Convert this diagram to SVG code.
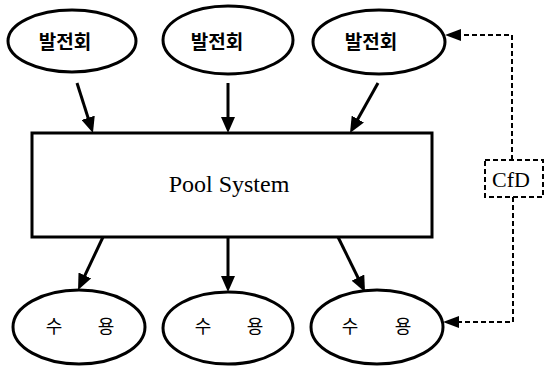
<svg xmlns="http://www.w3.org/2000/svg" width="547" height="366" viewBox="0 0 547 366">
<style>
.node{fill:#fff;stroke:#000;stroke-width:3}
.ko{font-family:"Noto Sans CJK KR",sans-serif;font-size:18px;fill:#000}
.gen{font-size:19px;font-weight:bold}
.en{font-family:"Liberation Serif",serif;fill:#000}
.arr{stroke:#000;stroke-width:3;fill:none;marker-end:url(#ah)}
.dash{stroke:#000;stroke-width:2;fill:none;stroke-dasharray:5 3;marker-end:url(#ah2)}
</style>
<defs>
<marker id="ah" markerUnits="userSpaceOnUse" markerWidth="16" markerHeight="14" refX="6" refY="7" orient="auto">
<path d="M0,0 L16,7 L0,14 z" fill="#000" stroke="none"/>
</marker>
<marker id="ah2" markerUnits="userSpaceOnUse" markerWidth="16" markerHeight="12" refX="6" refY="6" orient="auto">
<path d="M0,0 L16,6 L0,12 z" fill="#000" stroke="none"/>
</marker>
</defs>
<rect width="547" height="366" fill="#fff"/>
<g id="gen1"><ellipse class="node" cx="72" cy="41" rx="64" ry="31"/><text class="ko gen" x="65" y="49" text-anchor="middle">발전회</text></g>
<g id="gen2"><ellipse class="node" cx="228" cy="40" rx="65" ry="34"/><text class="ko gen" x="217" y="49" text-anchor="middle">발전회</text></g>
<g id="gen3"><ellipse class="node" cx="379" cy="42" rx="66" ry="32"/><text class="ko gen" x="371" y="49" text-anchor="middle">발전회</text></g>
<g id="pool"><rect class="node" x="32" y="133" width="400" height="104"/><text class="en" x="229" y="192" font-size="24" text-anchor="middle">Pool System</text></g>
<g id="dem1"><ellipse class="node" cx="79" cy="327" rx="66" ry="37"/><text class="ko" y="333" font-size="17" text-anchor="middle"><tspan x="54">수</tspan><tspan x="106">용</tspan></text></g>
<g id="dem2"><ellipse class="node" cx="228" cy="328" rx="65" ry="36"/><text class="ko" y="333" font-size="17" text-anchor="middle"><tspan x="203">수</tspan><tspan x="255">용</tspan></text></g>
<g id="dem3"><ellipse class="node" cx="377" cy="327" rx="66" ry="37"/><text class="ko" y="333" font-size="17" text-anchor="middle"><tspan x="350">수</tspan><tspan x="403">용</tspan></text></g>
<g id="cfd"><rect x="485" y="160" width="58" height="37" fill="#fff" stroke="#000" stroke-width="2" stroke-dasharray="5 3"/><text class="en" x="511" y="187" font-size="22" text-anchor="middle">CfD</text></g>
<g id="connectors">
<path class="arr" d="M77,83 L89.9,123.5"/>
<path class="arr" d="M228,83 L228,123"/>
<path class="arr" d="M378,83 L354.9,124.3"/>
<path class="arr" d="M103,237 L82.3,280.9"/>
<path class="arr" d="M228,237 L228,282"/>
<path class="arr" d="M338,237 L360.6,283"/>
<path class="dash" d="M512,160 V35 H455"/>
<path class="dash" d="M513,197 V322 H453"/>
</g>
</svg>
